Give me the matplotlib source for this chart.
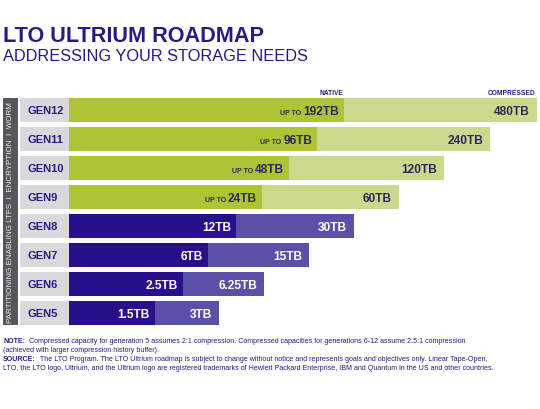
import matplotlib
matplotlib.use("Agg")
import matplotlib.pyplot as plt
from matplotlib.patches import Rectangle

# data (bar lengths, the chart is not to scale)
gens = ["GEN5", "GEN6", "GEN7", "GEN8", "GEN9", "GEN10", "GEN11", "GEN12"]
native_labels = ["1.5TB", "2.5TB", "6TB", "12TB", "24TB", "48TB", "96TB", "192TB"]
compressed_labels = ["3TB", "6.25TB", "15TB", "30TB", "60TB", "120TB", "240TB", "480TB"]
native_len = [86, 114, 139, 167, 193, 220, 248, 275]
compressed_len = [150, 195, 240, 285, 330, 375, 421, 468]
up_to = [False, False, False, False, True, True, True, True]

# colours
navy = "#2a1888"
lime = "#aec434"
lime_light = "#c9da8c"
blue = "#28108a"
blue_light = "#5b50a8"
cell_gray = "#d9d9db"
strip_gray = "#54585a"
dark_txt = "#2b2954"

plt.rcParams["font.family"] = ["Liberation Sans", "DejaVu Sans"]

fig = plt.figure(figsize=(5.4, 4.1), dpi=100)
ax = fig.add_axes([3 / 540, 1 - 328.5 / 410, 537 / 540, 232 / 410])
ax.set_xlim(-66, 471)
ax.set_ylim(-0.5, 7.5)
ax.axis("off")

h = 0.83
ys = list(range(len(gens)))

# left strip + gray label cells
ax.add_patch(Rectangle((-66, -h / 2), 15, len(gens) - 1 + h, color=strip_gray, lw=0))
ax.text(-58.3, (len(gens) - 1) / 2, "PARTITIONING ENABLING LTFS  I  ENCRYPTION  I  WORM",
        rotation=90, ha="center", va="center", color="#ececec", fontsize=5.8)
ax.barh(ys, [49] * len(gens), left=-49, height=h, color=cell_gray, lw=0)

for i, g in enumerate(gens):
    green = up_to[i]
    c_nat = lime if green else blue
    c_cmp = lime_light if green else blue_light
    tc = dark_txt if green else "white"
    ax.barh(i, native_len[i], height=h, color=c_nat, lw=0)
    ax.barh(i, compressed_len[i] - native_len[i], left=native_len[i], height=h,
            color=c_cmp, lw=0)
    ax.text(-42, i, g, ha="left", va="center", color=navy, fontsize=8,
            fontweight="bold")
    yb = i - 0.15
    t = ax.text(native_len[i] - 5, yb, native_labels[i], ha="right", va="baseline",
                color=tc, fontsize=8.6, fontweight="bold")
    if green:
        ax.annotate("UP TO ", xy=(0, yb), xycoords=(t, ax.transData),
                    ha="right", va="baseline", color=tc, fontsize=5,
                    fontweight="bold")
    ax.text(compressed_len[i] - 7, yb, compressed_labels[i], ha="right",
            va="baseline", color=tc, fontsize=8.6, fontweight="bold")

ax.text(native_len[-1] - 1, 7.62, "NATIVE", ha="right", va="center", color=navy,
        fontsize=4.8, fontweight="bold")
ax.text(compressed_len[-1] - 1, 7.62, "COMPRESSED", ha="right", va="center",
        color=navy, fontsize=4.8, fontweight="bold")

# titles
fig.text(3 / 540, 1 - 36 / 410, "LTO ULTRIUM ROADMAP", ha="left", va="center",
         color=navy, fontsize=15.6, fontweight="bold")
fig.text(3 / 540, 1 - 56.5 / 410, "ADDRESSING YOUR STORAGE NEEDS", ha="left",
         va="center", color=navy, fontsize=11.8)

# notes
def note_line(y, head, body):
    if head:
        t = fig.text(3 / 540, 1 - y / 410, head, ha="left", va="baseline",
                     color=navy, fontsize=5.1, fontweight="bold")
        plt.annotate("  " + body, xy=(1, 0), xycoords=t, ha="left", va="bottom",
                     color=navy, fontsize=5.1)
    else:
        fig.text(3 / 540, 1 - y / 410, body, ha="left", va="baseline",
                 color=navy, fontsize=5.1)

note_line(343, "NOTE:", "Compressed capacity for generation 5 assumes 2:1 compression. "
          "Compressed capacities for generations 6-12 assume 2.5:1 compression")
note_line(352, None, "(achieved with larger compression history buffer).")
note_line(361, "SOURCE:", "The LTO Program. The LTO Ultrium roadmap is subject to change "
          "without notice and represents goals and objectives only. Linear Tape-Open,")
note_line(370, None, "LTO, the LTO logo, Ultrium, and the Ultrium logo are registered "
          "trademarks of Hewlett Packard Enterprise, IBM and Quantum in the US and other countries.")

fig.savefig("out.png", dpi=100)
